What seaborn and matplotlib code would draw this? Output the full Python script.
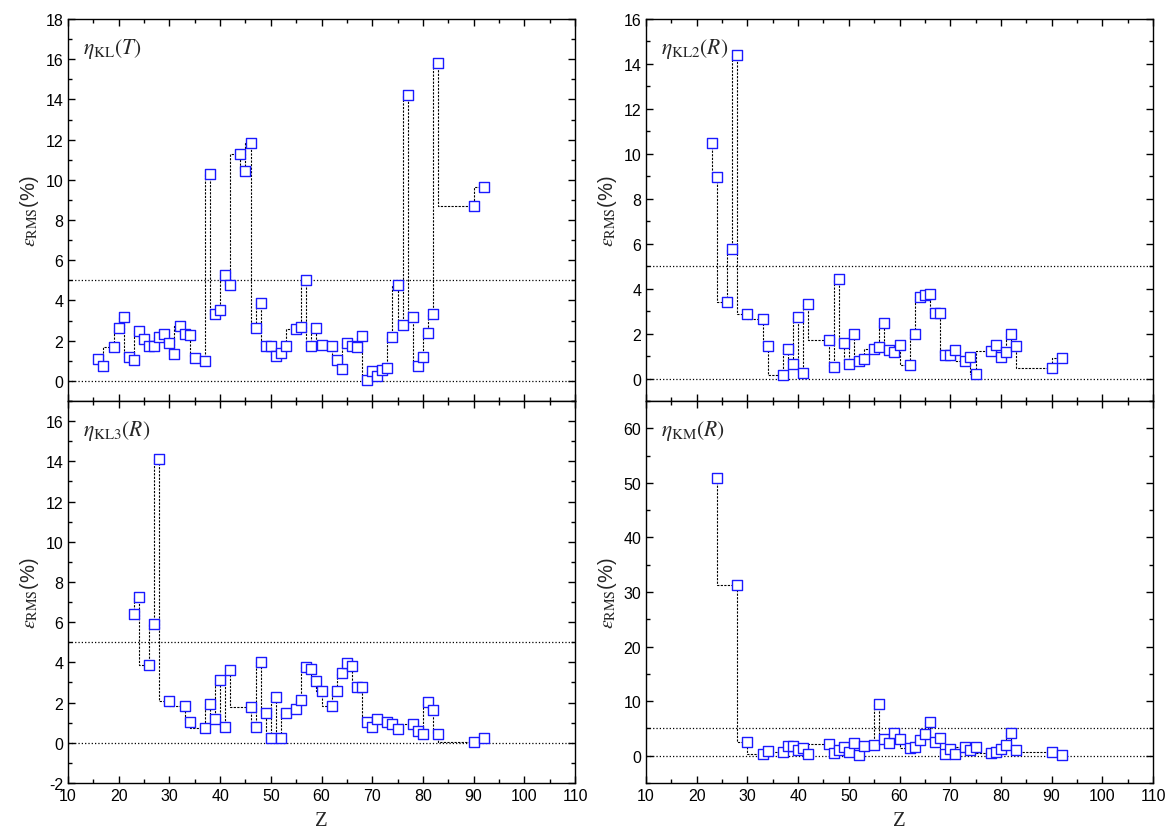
import numpy as np
import pandas as pd
import matplotlib
matplotlib.use("Agg")
import matplotlib.pyplot as plt
import seaborn as sns
from matplotlib.ticker import MultipleLocator

# eta_KL(T)
z_kl = [16, 17, 19, 20, 21, 22, 23, 24, 25, 26, 27, 28, 29, 30, 31, 32, 33, 34, 35,
        37, 38, 39, 40, 41, 42, 44, 45, 46, 47, 48, 49, 50, 51, 52, 53, 55, 56, 57,
        58, 59, 60, 62, 63, 64, 65, 66, 67, 68, 69, 70, 71, 72, 73, 74, 75, 76, 77,
        78, 79, 80, 81, 82, 83, 90, 92]
e_kl = [1.10, 0.72, 1.68, 2.64, 3.17, 1.17, 1.05, 2.46, 2.09, 1.73, 1.76, 2.18, 2.31,
        1.90, 1.32, 2.72, 2.31, 2.26, 1.15, 0.99, 10.29, 3.33, 3.54, 5.26, 4.78,
        11.31, 10.42, 11.82, 2.64, 3.89, 1.72, 1.72, 1.22, 1.38, 1.76, 2.59, 2.70,
        5.04, 1.72, 2.64, 1.81, 1.76, 1.02, 0.58, 1.90, 1.73, 1.68, 2.21, 0.03, 0.48,
        0.23, 0.53, 0.64, 2.16, 4.76, 2.80, 14.23, 3.20, 0.76, 1.19, 2.39, 3.33,
        15.81, 8.69, 9.64]

# eta_KL2(R)
z_kl2 = [23, 24, 26, 27, 28, 30, 33, 34, 37, 38, 39, 40, 41, 42, 46, 47, 48, 49, 50,
         51, 52, 53, 55, 56, 57, 58, 59, 60, 62, 63, 64, 65, 66, 67, 68, 69, 70, 71,
         73, 74, 75, 78, 79, 80, 81, 82, 83, 90, 92]
e_kl2 = [10.49, 8.97, 3.42, 5.77, 14.38, 2.87, 2.63, 1.46, 0.15, 1.31, 0.64, 2.75,
         0.25, 3.30, 1.70, 0.51, 4.42, 1.59, 0.63, 1.98, 0.77, 0.88, 1.33, 1.42, 2.49,
         1.25, 1.19, 1.50, 0.61, 1.98, 3.62, 3.71, 3.77, 2.90, 2.90, 1.06, 1.06, 1.25,
         0.76, 0.98, 0.19, 1.21, 1.49, 0.95, 1.16, 1.99, 1.45, 0.49, 0.92]

# eta_KL3(R)
z_kl3 = [23, 24, 26, 27, 28, 30, 33, 34, 37, 38, 39, 40, 41, 42, 46, 47, 48, 49, 50,
         51, 52, 53, 55, 56, 57, 58, 59, 60, 62, 63, 64, 65, 66, 67, 68, 69, 70, 71,
         73, 74, 75, 78, 79, 80, 81, 82, 83, 90, 92]
e_kl3 = [6.42, 7.23, 3.88, 5.93, 14.13, 2.08, 1.83, 1.05, 0.75, 1.95, 1.20, 3.13,
         0.78, 3.62, 1.78, 0.78, 4.03, 1.50, 0.25, 2.30, 0.22, 1.50, 1.68, 2.13, 3.75,
         3.67, 3.05, 2.60, 1.85, 2.58, 3.45, 3.97, 3.83, 2.78, 2.78, 1.03, 0.78, 1.20,
         1.03, 0.92, 0.70, 0.93, 0.58, 0.45, 2.03, 1.63, 0.45, 0.03, 0.22]

# eta_KM(R)
z_km = [24, 28, 30, 33, 34, 37, 38, 39, 40, 41, 42, 46, 47, 48, 49, 50, 51, 52, 53,
        55, 56, 57, 58, 59, 60, 62, 63, 64, 65, 66, 67, 68, 69, 70, 71, 73, 74, 75,
        78, 79, 80, 81, 82, 83, 90, 92]
e_km = [50.85, 31.3, 2.48, 0.30, 0.79, 0.61, 1.70, 1.82, 0.97, 1.39, 0.24, 2.06,
        0.48, 1.09, 1.58, 0.67, 2.30, 0.06, 1.76, 2.00, 9.45, 3.03, 2.30, 4.12, 3.03,
        1.45, 1.58, 2.79, 3.94, 6.12, 2.48, 3.21, 0.24, 1.15, 0.24, 1.58, 1.09, 1.58,
        0.55, 0.73, 1.27, 1.94, 4.24, 0.97, 0.67, 0.12]

labels = [r"$\eta_{\rm KL}(T)$", r"$\eta_{\rm KL2}(R)$",
          r"$\eta_{\rm KL3}(R)$", r"$\eta_{\rm KM}(R)$"]

sns.set_style("ticks")
plt.rcParams["font.family"] = ["Liberation Sans", "DejaVu Sans"]
plt.rcParams["mathtext.fontset"] = "stix"
plt.rcParams["axes.unicode_minus"] = False
plt.rcParams["xtick.direction"] = "in"
plt.rcParams["ytick.direction"] = "in"

fig = plt.figure(figsize=(11.71, 8.37), dpi=100)

W = 507 / 1171
H = 382 / 837
pos = [(68 / 1171, 1 - 402 / 837), (646 / 1171, 1 - 402 / 837),
       (68 / 1171, 1 - 784 / 837), (646 / 1171, 1 - 784 / 837)]

panels = [
    (z_kl, e_kl, (-1, 18), 2, 1),
    (z_kl2, e_kl2, (-1, 16), 2, 1),
    (z_kl3, e_kl3, (-2, 17), 2, 1),
    (z_km, e_km, (-5, 65), 10, 5),
]

for i, ((zz, ee, ylim, ymaj, ymin), (px, py)) in enumerate(zip(panels, pos)):
    ax = fig.add_axes([px, py, W, H])
    df = pd.DataFrame({"Z": zz, "err": ee})

    ax.axhline(0, color="black", linestyle=":", linewidth=0.9, zorder=1)
    ax.axhline(5, color="black", linestyle=":", linewidth=0.9, zorder=1)

    sns.lineplot(data=df, x="Z", y="err", ax=ax, drawstyle="steps-pre",
                 color="black", linestyle=(0, (2, 1.2)), linewidth=0.8,
                 estimator=None, zorder=2)
    sns.scatterplot(data=df, x="Z", y="err", ax=ax, marker="s", s=42,
                    facecolor="white", edgecolor="#1a1aff", linewidth=1.0,
                    zorder=3)

    ax.set_xlim(10, 110)
    ax.set_ylim(*ylim)
    ax.xaxis.set_major_locator(MultipleLocator(10))
    ax.xaxis.set_minor_locator(MultipleLocator(5))
    ax.yaxis.set_major_locator(MultipleLocator(ymaj))
    ax.yaxis.set_minor_locator(MultipleLocator(ymin))
    ax.tick_params(which="both", top=True, right=True, labelsize=11.5,
                   width=1.0, colors="black")
    ax.tick_params(which="major", length=5)
    ax.tick_params(which="minor", length=3)
    for sp in ax.spines.values():
        sp.set_linewidth(1.0)
        sp.set_color("black")

    ax.set_ylabel(r"$\varepsilon_{\rm RMS}$(%)", fontsize=14.5, labelpad=3)
    if i < 2:
        ax.set_xlabel("")
        ax.tick_params(labelbottom=False)
    else:
        ax.set_xlabel("Z", fontsize=15, family="Liberation Serif", labelpad=6)

    ax.text(0.03, 0.955, labels[i], transform=ax.transAxes, fontsize=15.5,
            ha="left", va="top")

plt.savefig("out.png", dpi=100)
plt.close()
